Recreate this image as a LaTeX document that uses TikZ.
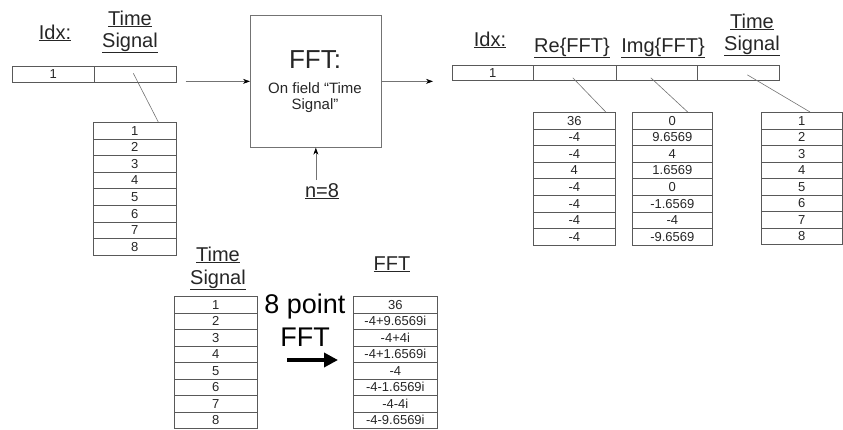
\documentclass[tikz,border=0pt]{standalone}
\usepackage{fontspec}
\setmainfont{Liberation Sans}
\usetikzlibrary{arrows.meta,calc}
\newcommand\mytable[6]{% name, x, y, width, rowheight, list
  \foreach \v [count=\i] in {#6}{
    \node[cell, minimum width=#4pt, minimum height=#5pt, anchor=north west]
      (#1-\i) at (#2, {#3+(\i-1)*#5}) {\v};
  }
}
\begin{document}
\begin{tikzpicture}[x=1pt,y=-1pt,
  cell/.style={draw=black!65, line width=0.7pt, inner sep=0pt, font=\fontsize{13}{13}\selectfont, text=black!85},
  lab/.style={anchor=base, inner sep=0pt, font=\fontsize{20}{20}\selectfont, text=black!85},
  conn/.style={draw=black!55, line width=0.6pt},
  arr/.style={draw=black!55, line width=0.6pt, -{Stealth[length=7pt,width=5pt,black]}}
  ]
\useasboundingbox (0,0) rectangle (843,429);
% ---- left record
\node[cell, minimum width=82pt, minimum height=16pt, anchor=north west] (L1) at (12,66) {1};
\node[cell, minimum width=82pt, minimum height=16pt, anchor=north west] (L2) at (94,66) {};
\node[lab] (lidx) at (55,39) {\underline{Idx:}};
\node[lab] (ltime) at (130,25) {\underline{Time}};
\node[lab] (lsig) at (130,47) {\underline{Signal}};
\mytable{A}{93}{122}{83}{16.6}{1,2,3,4,5,6,7,8}
\coordinate (Atop) at ($(A-1.north west)!0.78!(A-1.north east)$);
\draw[conn] ($(L2.center)+(-2,-1)$) -- (Atop);
% ---- FFT box
\node[draw=black!55, line width=0.7pt, minimum width=131pt, minimum height=132pt, anchor=north west, inner sep=0pt] (fft) at (250,15) {};
\node[anchor=base, inner sep=0pt, font=\fontsize{26}{26}\selectfont, text=black!85] (fftt) at (315,68) {FFT:};
\node[anchor=base, inner sep=0pt, font=\fontsize{15}{15}\selectfont, text=black!85] (fft1) at (315,93) {On field “Time};
\node[anchor=base, inner sep=0pt, font=\fontsize{15}{15}\selectfont, text=black!85] (fft2) at (315,109) {Signal”};
\node[lab] (n8) at (322,197) {\underline{n=8}};
\draw[arr] (fft.south |- n8.north) ++(0,-3) -- (fft.south);
\draw[arr, shorten <=9pt] (L2.east |- fft.west) -- (fft.west);
% ---- right record
\node[cell, minimum width=81pt, minimum height=15pt, anchor=north west] (R1) at (452,65) {1};
\node[cell, minimum width=83pt, minimum height=15pt, anchor=north west] (R2) at (533,65) {};
\node[cell, minimum width=81pt, minimum height=15pt, anchor=north west] (R3) at (616,65) {};
\node[cell, minimum width=82pt, minimum height=15pt, anchor=north west] (R4) at (697,65) {};
\coordinate (Rin) at (R1.west |- fft.east);
\draw[arr, shorten >=19pt] (fft.east) -- (Rin);
\node[lab] (ridx) at (490,46) {\underline{Idx:}};
\node[lab] (rre) at (572,52) {\underline{Re\{FFT\}}};
\node[lab] (rim) at (663,52) {\underline{Img\{FFT\}}};
\node[lab] (rtime) at (752,28) {\underline{Time}};
\node[lab] (rsig) at (752,50) {\underline{Signal}};
\mytable{Re}{533}{112}{82}{16.6}{36,-4,-4,4,-4,-4,-4,-4}
\mytable{Im}{632}{112}{80}{16.6}{0,9.6569,4,1.6569,0,-1.6569,-4,-9.6569}
\mytable{T}{761}{112}{81}{16.5}{1,2,3,4,5,6,7,8}
\draw[conn] ($(R2.center)+(-2,5)$) -- ($(Re-1.north west)!0.88!(Re-1.north east)$);
\draw[conn] ($(R3.center)+(-6,5)$) -- ($(Im-1.north west)!0.69!(Im-1.north east)$);
\draw[conn] ($(R4.center)+(9,2)$) -- ($(T-1.north west)!0.6!(T-1.north east)$);
% ---- bottom example
\node[lab] (btime) at (218,261) {\underline{Time}};
\node[lab] (bsig) at (218,284) {\underline{Signal}};
\node[lab] (bfft) at (392,270) {\underline{FFT}};
\mytable{B}{174}{296}{83}{16.5}{1,2,3,4,5,6,7,8}
\mytable{F}{353}{296}{84}{16.5}{36,-4+9.6569i,-4+4i,-4+1.6569i,-4,-4-1.6569i,-4-4i,-4-9.6569i}
\node[anchor=base, inner sep=0pt, font=\fontsize{27}{27}\selectfont, text=black] (p8) at (305,313) {8 point};
\node[anchor=base, inner sep=0pt, font=\fontsize{27}{27}\selectfont, text=black] (pfft) at (305,346) {FFT};
\coordinate (ba) at (287,360);
\coordinate (bb) at (338,360);
\draw[line width=3.5pt, -{Triangle[length=14pt,width=14pt]}] (ba) -- (bb);
\end{tikzpicture}
\end{document}
